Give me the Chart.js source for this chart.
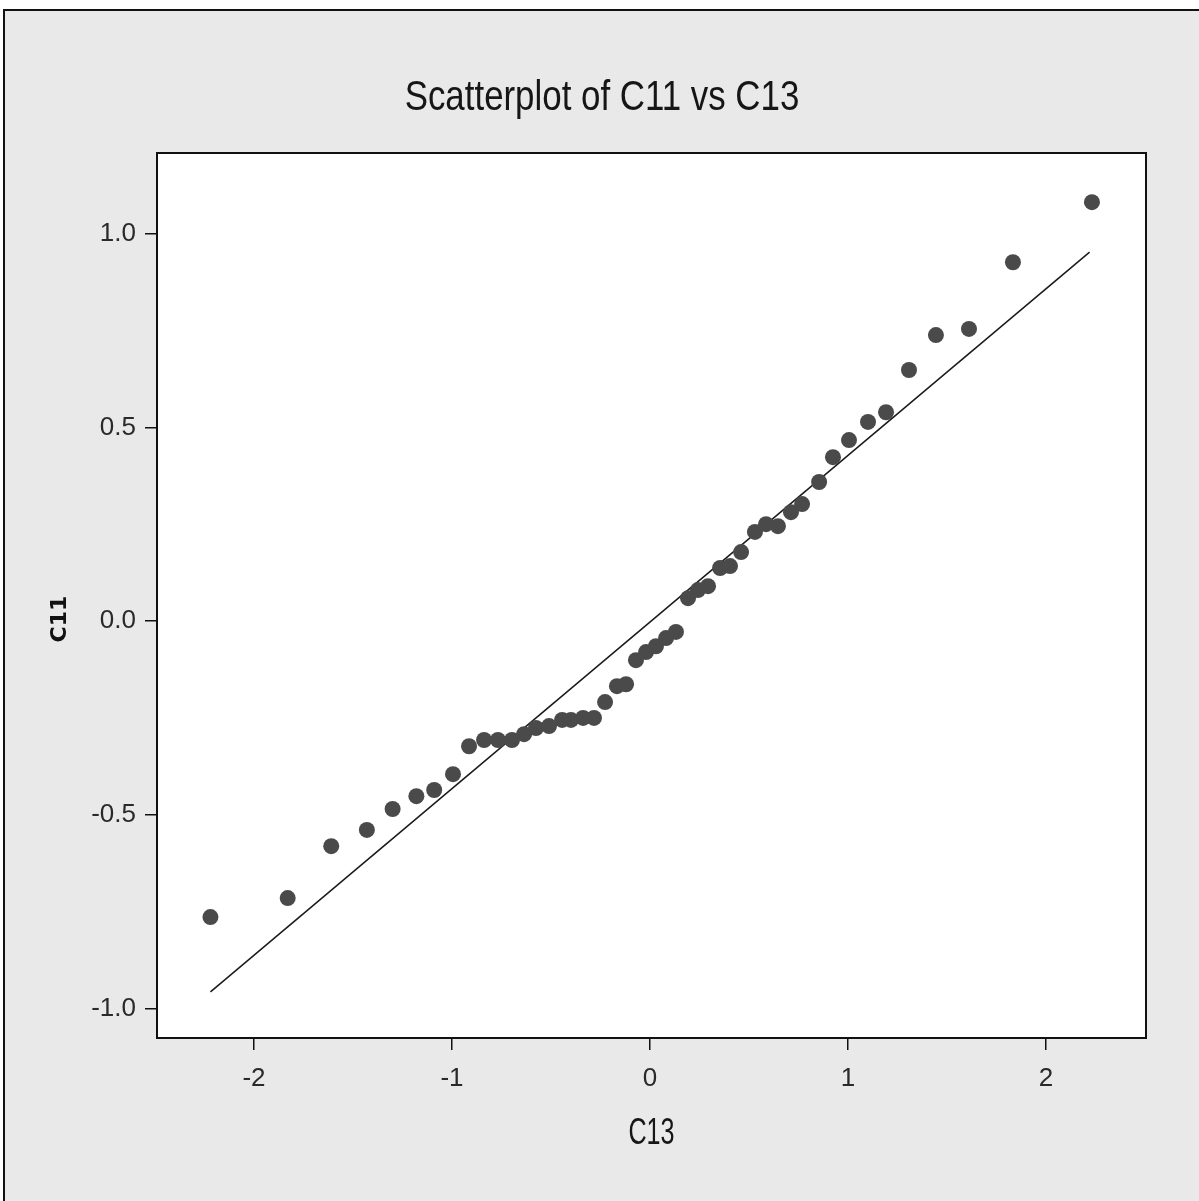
<!DOCTYPE html>
<html>
<head>
<meta charset="utf-8">
<title>Scatterplot of C11 vs C13</title>
<script src="https://cdn.jsdelivr.net/npm/chart.js@4.4.1/dist/chart.umd.min.js"></script>
<style>
    html, body { margin: 0; padding: 0; background: #fff; }
    #wrap { width: 1199px; height: 1201px; }
</style>
</head>
<body>
<div id="wrap"><canvas id="scatterChart" width="1199" height="1201"></canvas></div>
<script>
// ===================== DATA =====================

const c13 = [-2.22, -1.83, -1.61, -1.43, -1.30, -1.18, -1.09, -0.995, -0.914, -0.838,
             -0.768, -0.697, -0.636, -0.576, -0.510, -0.444, -0.399, -0.338, -0.283, -0.227,
             -0.167, -0.121, -0.071, -0.020, 0.030, 0.081, 0.131, 0.192, 0.242, 0.293,
             0.354, 0.404, 0.460, 0.530, 0.586, 0.646, 0.712, 0.768, 0.854, 0.924,
             1.005, 1.101, 1.192, 1.308, 1.444, 1.611, 1.833, 2.232];

const c11 = [-0.764, -0.715, -0.581, -0.539, -0.485, -0.452, -0.436, -0.395, -0.323, -0.307,
             -0.307, -0.307, -0.292, -0.276, -0.271, -0.255, -0.255, -0.250, -0.250, -0.209,
             -0.168, -0.163, -0.101, -0.080, -0.065, -0.044, -0.028, 0.059, 0.080, 0.090,
             0.137, 0.142, 0.178, 0.230, 0.250, 0.245, 0.281, 0.302, 0.359, 0.423,
             0.467, 0.514, 0.539, 0.648, 0.738, 0.754, 0.926, 1.081];

// reference line drawn over the points
const fitX = [-2.22, 2.22];
const fitY = [-0.957, 0.952];

const xTickValues = [-2, -1, 0, 1, 2];
const yTickValues = [-1.0, -0.5, 0.0, 0.5, 1.0];

const chartTitle = 'Scatterplot of C11 vs C13';
const xAxisTitle = 'C13';
const yAxisTitle = 'C11';

// ===================== PAGE BACKGROUND & FRAME =====================

const backgroundPlugin = {
    id: 'minitabBackground',
    beforeDraw(chart) {
        const ctx = chart.ctx;
        const area = chart.chartArea;
        ctx.save();
        ctx.fillStyle = '#ffffff';
        ctx.fillRect(0, 0, chart.width, chart.height);
        ctx.fillStyle = '#e9e9e9';
        ctx.fillRect(4, 10, chart.width - 4, chart.height - 10);
        // outer border (top & left)
        ctx.strokeStyle = '#111';
        ctx.lineWidth = 2;
        ctx.beginPath();
        ctx.moveTo(4, chart.height);
        ctx.lineTo(4, 10);
        ctx.lineTo(chart.width, 10);
        ctx.stroke();
        // plot area
        ctx.fillStyle = '#ffffff';
        ctx.fillRect(area.left, area.top, area.right - area.left, area.bottom - area.top);
        ctx.restore();
    },
    afterDraw(chart) {
        const ctx = chart.ctx;
        const area = chart.chartArea;
        ctx.save();
        ctx.strokeStyle = '#111';
        ctx.lineWidth = 2;
        ctx.strokeRect(area.left, area.top, area.right - area.left, area.bottom - area.top);
        ctx.restore();
    }
};

// Titles in a narrow face: squeeze the text horizontally
function drawSqueezed(ctx, text, x, y, font, squeeze) {
    ctx.save();
    ctx.translate(x, y);
    ctx.scale(squeeze, 1);
    ctx.font = font;
    ctx.fillText(text, 0, 0);
    ctx.restore();
}

const textPlugin = {
    id: 'minitabText',
    afterDraw(chart) {
        const ctx = chart.ctx;
        const area = chart.chartArea;
        ctx.save();
        ctx.fillStyle = '#161616';
        ctx.textAlign = 'center';
        ctx.textBaseline = 'middle';
        drawSqueezed(ctx, chartTitle, 602, 98, "42px 'Liberation Sans', sans-serif", 0.83);
        drawSqueezed(ctx, xAxisTitle, (area.left + area.right) / 2, 1134, "37px 'Liberation Sans', sans-serif", 0.68);
        // y axis title, rotated
        ctx.translate(60, 619);
        ctx.rotate(-Math.PI / 2);
        ctx.font = "bold 22px 'DejaVu Sans', sans-serif";
        ctx.fillStyle = '#111';
        ctx.fillText(yAxisTitle, 0, 0);
        ctx.restore();
    }
};

// ===================== CHART =====================

const tickFont = { family: "'Liberation Sans', sans-serif", size: 26 };

const ctx = document.getElementById('scatterChart').getContext('2d');
const scatterChart = new Chart(ctx, {
    type: 'scatter',
    data: {
        datasets: [{
            label: 'C11',
            data: c13.map((x, i) => ({ x: x, y: c11[i] })),
            backgroundColor: '#4a4a4a',
            borderWidth: 0,
            pointRadius: 8,
            pointHoverRadius: 8,
            order: 0
        }, {
            type: 'line',
            label: 'fit',
            data: fitX.map((x, i) => ({ x: x, y: fitY[i] })),
            borderColor: '#1a1a1a',
            borderWidth: 1.5,
            pointRadius: 0,
            fill: false,
            order: 1
        }]
    },
    options: {
        responsive: false,
        animation: false,
        layout: {
            padding: { left: 0, right: 53, top: 153, bottom: 0 }
        },
        plugins: {
            legend: { display: false },
            tooltip: { enabled: false },
            title: { display: false }
        },
        scales: {
            x: {
                type: 'linear',
                position: 'bottom',
                min: -2.49,
                max: 2.505,
                afterBuildTicks: function(scale) {
                    scale.ticks = xTickValues.map(v => ({ value: v }));
                },
                afterFit: function(scale) {
                    scale.height = 163;
                },
                ticks: {
                    font: tickFont,
                    color: '#2a2a2a',
                    padding: 13,
                    maxRotation: 0,
                    callback: v => String(v)
                },
                grid: {
                    drawOnChartArea: false,
                    drawTicks: true,
                    tickLength: 12,
                    color: '#111',
                    lineWidth: 1.5
                },
                border: { display: false }
            },
            y: {
                type: 'linear',
                min: -1.076,
                max: 1.208,
                afterBuildTicks: function(scale) {
                    scale.ticks = yTickValues.map(v => ({ value: v }));
                },
                afterFit: function(scale) {
                    scale.width = 157;
                },
                ticks: {
                    font: tickFont,
                    color: '#2a2a2a',
                    padding: 9,
                    callback: v => Number(v).toFixed(1)
                },
                grid: {
                    drawOnChartArea: false,
                    drawTicks: true,
                    tickLength: 12,
                    color: '#111',
                    lineWidth: 1.5
                },
                border: { display: false }
            }
        }
    },
    plugins: [backgroundPlugin, textPlugin]
});
</script>
</body>
</html>
